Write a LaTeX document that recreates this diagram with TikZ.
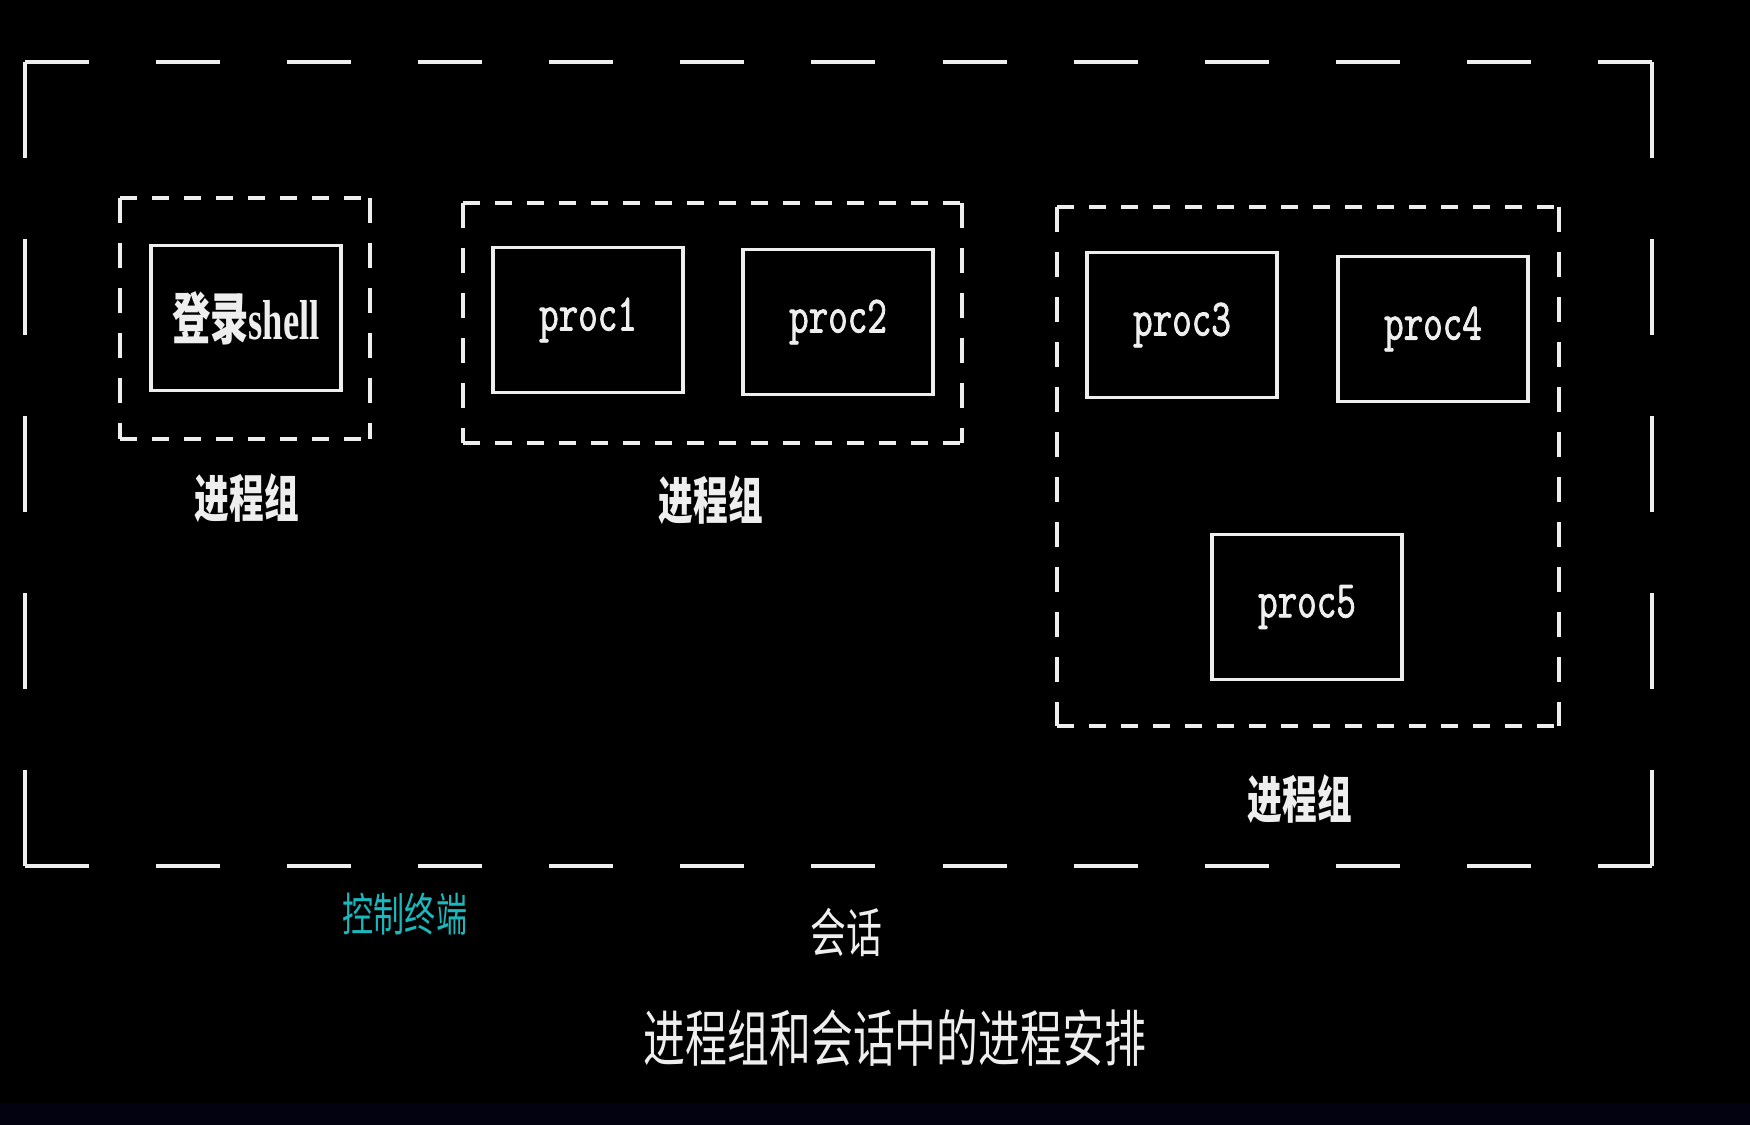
\documentclass[tikz,border=0pt]{standalone}
\usepackage{fontspec}
\usepackage{xcolor}
\usetikzlibrary{positioning}
\newfontfamily\cjkfont[FakeStretch=0.68]{Noto Sans CJK SC}
\newfontfamily\procfont[FakeStretch=0.72,FakeBold=1.5]{Latin Modern Mono}
\newfontfamily\shellfont[FakeStretch=0.65]{Liberation Serif}
\definecolor{ink}{HTML}{EEEEEE}
\definecolor{termcyan}{HTML}{1AB8BC}
\definecolor{stripnavy}{HTML}{020210}

% dashed frame drawn side by side, so that rows and columns can differ
\newcommand{\dashframe}[4]{%
  \draw[#1] (#3) -- (#3 -| #4);
  \draw[#1] (#3 |- #4) -- (#4);
  \draw[#2] (#3) -- (#3 |- #4);
  \draw[#2] (#3 -| #4) -- (#4);
}

\begin{document}
\begin{tikzpicture}[
  x=0.01cm, y=-0.01cm,
  proc/.style={draw=ink, line width=0.9pt, minimum width=1.9cm, minimum height=1.45cm, inner sep=0pt, text=ink, font=\procfont\fontsize{15}{15}\selectfont},
  grplbl/.style={text=ink, font=\cjkfont\bfseries\fontsize{14.5}{14.5}\selectfont},
  sesh h/.style={draw=ink, line width=0.9pt, dash pattern=on 0.64cm off 0.67cm},
  sesh v/.style={draw=ink, line width=0.9pt, dash pattern=on 0.96cm off 0.81cm},
  grp h/.style={draw=ink, line width=0.9pt, dash pattern=on 0.17cm off 0.15cm},
  grp v/.style={draw=ink, line width=0.9pt, dash pattern=on 0.25cm off 0.20cm},
]
\useasboundingbox (0,0) rectangle (1750,1125);
\fill[black] (0,0) rectangle (1750,1125);
\fill[stripnavy] (0,1103) rectangle (1750,1125);

% session frame
\coordinate (s1) at (25,62);
\coordinate (s2) at (1652,866);
\dashframe{sesh h}{sesh v}{s1}{s2}

% process group frames
\coordinate (g1a) at (120,198);
\coordinate (g1b) at (370,439);
\coordinate (g2a) at (463,203);
\coordinate (g2b) at (962,443);
\coordinate (g3a) at (1057,207);
\coordinate (g3b) at (1559,726);
\dashframe{grp h}{grp v}{g1a}{g1b}
\dashframe{grp h}{grp v}{g2a}{g2b}
\dashframe{grp h}{grp v}{g3a}{g3b}

% processes
\node[proc, font=\fontsize{16}{16}\selectfont] (login) at (246,318) {{\cjkfont\bfseries 登录}{\shellfont\bfseries shell}};
\node[proc] (proc1) at (588,320) {proc1};
\node[proc] (proc2) at (838,322) {proc2};
\node[proc] (proc3) at (1182,325) {proc3};
\node[proc] (proc4) at (1433,329) {proc4};
\node[proc] (proc5) at (1307,607) {proc5};

% labels
\node[grplbl] (lbl1) at (247,498) {进程组};
\node[grplbl] (lbl2) at (711,500) {进程组};
\node[grplbl] (lbl3) at (1300,799) {进程组};
\node[text=termcyan, font=\cjkfont\fontsize{13}{13}\selectfont] (term) at (405,914) {控制终端};
\node[text=ink, font=\cjkfont\fontsize{15}{15}\selectfont] (sess) at (846,932) {会话};
\node[text=ink, font=\cjkfont\fontsize{17.5}{17.5}\selectfont] (title) at (895,1038) {进程组和会话中的进程安排};

\end{tikzpicture}
\end{document}
